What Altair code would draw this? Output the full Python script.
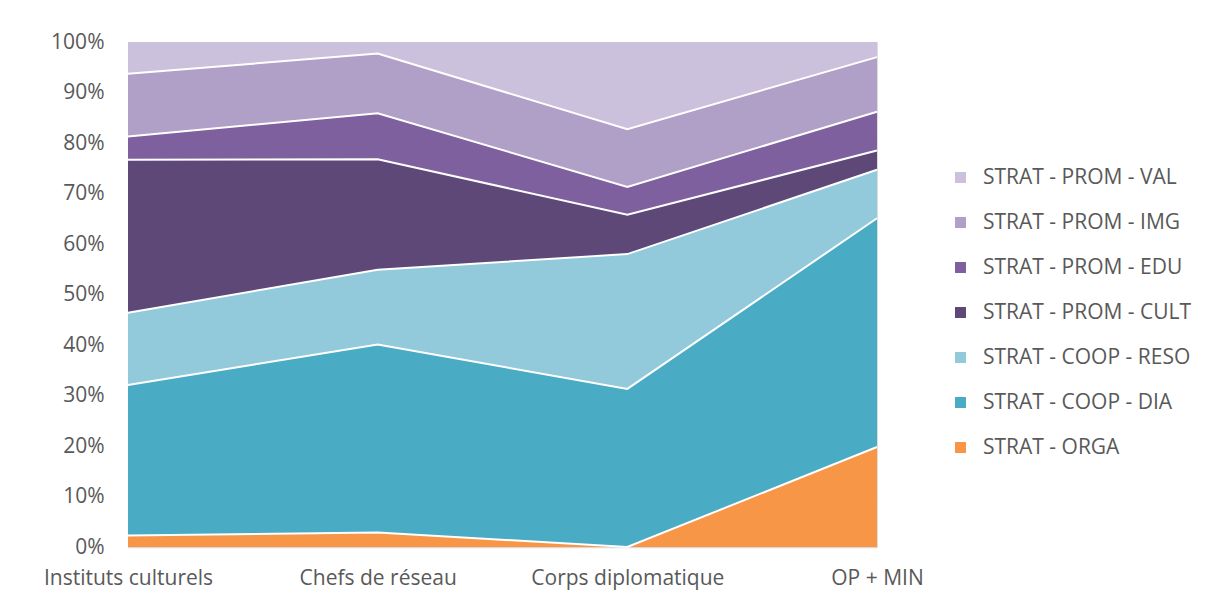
import altair as alt
import pandas as pd

categories = ["Instituts culturels", "Chefs de réseau", "Corps diplomatique", "OP + MIN"]
series = ["STRAT - ORGA", "STRAT - COOP - DIA", "STRAT - COOP - RESO", "STRAT - PROM - CULT",
          "STRAT - PROM - EDU", "STRAT - PROM - IMG", "STRAT - PROM - VAL"]
colors = ["#f79646", "#4aabc5", "#93cadb", "#5e4878", "#7e609e", "#b09fc6", "#cbc1dc"]

orga = [2.3, 2.85, 0.0, 19.8]
coop_dia = [29.8, 37.25, 31.3, 45.3]
coop_reso = [14.3, 14.8, 26.7, 9.6]
prom_cult = [30.3, 21.9, 7.8, 3.8]
prom_edu = [4.6, 9.1, 5.5, 7.7]
prom_img = [12.4, 11.8, 11.45, 10.8]
prom_val = [6.3, 2.3, 17.25, 3.0]

values = [orga, coop_dia, coop_reso, prom_cult, prom_edu, prom_img, prom_val]
rows = []
for si, (s, vals) in enumerate(zip(series, values)):
    for c, v in zip(categories, vals):
        rows.append({"cat": c, "series": s, "idx": si, "value": v})
df = pd.DataFrame(rows)

font = "Open Sans"
txt = "#595959"
fs = 21

x = alt.X("cat:N", sort=categories, title=None,
          scale=alt.Scale(type="point", padding=0),
          axis=alt.Axis(labelAngle=0, labelFontSize=fs, labelColor=txt, labelFont=font,
                        labelPadding=20, ticks=False, domainColor="#d9d9d9", domainWidth=1.5,
                        grid=False, labelLimit=400))

base = alt.Chart(df).transform_joinaggregate(total="sum(value)", groupby=["cat"]).transform_calculate(
    pct="datum.value / datum.total"
).transform_stack(stack="pct", groupby=["cat"], as_=["y0", "y1"], sort=[alt.SortField("idx", order="ascending")])

area = base.mark_area(opacity=1).encode(
    x=x,
    y=alt.Y("y0:Q", title=None, scale=alt.Scale(domain=[0, 1], nice=False),
            axis=alt.Axis(format="%", values=[i / 10 for i in range(11)], labelFontSize=fs,
                          labelColor=txt, labelFont=font, labelPadding=24, ticks=False,
                          domain=False, gridColor="#d9d9d9", gridWidth=1)),
    y2="y1:Q",
    color=alt.Color("series:N", sort=series[::-1],
                    scale=alt.Scale(domain=series[::-1], range=colors[::-1]),
                    legend=alt.Legend(title=None, orient="none", legendX=822, legendY=125,
                                      labelFontSize=fs, labelColor=txt, labelFont=font,
                                      symbolType="square", symbolSize=120, symbolStrokeWidth=0,
                                      rowPadding=23, labelOffset=12, labelLimit=400)),
    detail="series:N",
)

lines = base.transform_filter("datum.idx < 6").mark_line(color="white", strokeWidth=2).encode(
    x=x,
    y="y1:Q",
    detail="series:N",
)

chart = alt.layer(area, lines).properties(
    width=749, height=505,
    autosize=alt.AutoSizeParams(type="none"),
    padding={"left": 120, "top": 34, "right": 320, "bottom": 50},
).configure_view(stroke=None).configure(background="white")

chart.save("out.html", embed_options={"renderer": "svg", "actions": False})
